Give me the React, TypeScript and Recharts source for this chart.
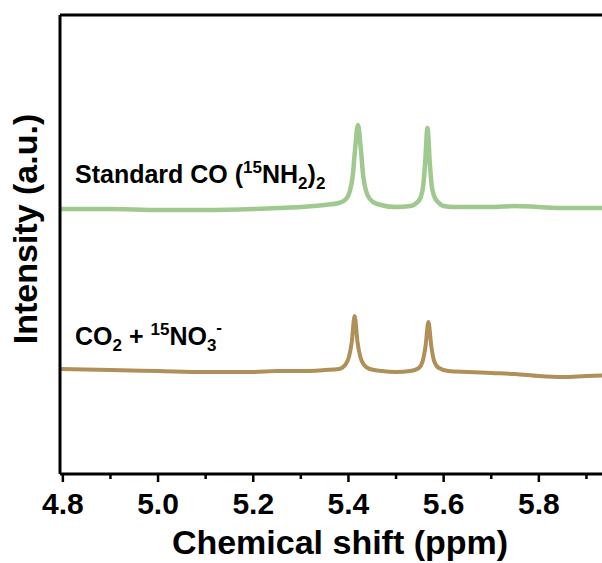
import React from 'react';
import {
  LineChart,
  Line,
  XAxis,
  YAxis,
  ReferenceLine,
  Customized,
} from 'recharts';

// chemical shift (ppm) and intensity (a.u.)
const STANDARD_PPM = [
  4.79, 4.9, 5.0, 5.1, 5.2, 5.25, 5.3, 5.35, 5.38, 5.395, 5.403, 5.409, 5.414, 5.42,
  5.426, 5.431, 5.437, 5.445, 5.46, 5.5, 5.53, 5.545, 5.552, 5.557, 5.561, 5.566, 5.571,
  5.575, 5.58, 5.588, 5.6, 5.62, 5.65, 5.7, 5.75, 5.8, 5.85, 5.97,
];
const STANDARD_INT = [
  265, 265, 264, 264, 265, 266, 267, 269, 271, 275, 283, 298, 325, 349,
  325, 298, 283, 275, 270, 267, 268, 272, 277, 288, 310, 346, 310,
  288, 278, 272, 268, 267, 267, 267, 268, 267, 266, 266,
];

const SAMPLE_PPM = [
  4.79, 4.9, 5.0, 5.1, 5.2, 5.25, 5.3, 5.35, 5.38, 5.393, 5.401, 5.407, 5.413, 5.419,
  5.425, 5.433, 5.445, 5.47, 5.5, 5.53, 5.548, 5.556, 5.562, 5.568, 5.574, 5.58, 5.59,
  5.61, 5.65, 5.7, 5.75, 5.8, 5.85, 5.9, 5.97,
];
const SAMPLE_INT = [
  105, 104, 103, 102, 102, 103, 103, 104, 105, 109, 117, 132, 158, 132,
  117, 109, 105, 103, 102, 103, 106, 113, 128, 152, 128, 113, 106,
  103, 102, 101, 100, 98, 97, 98, 99,
];

const X_TICKS = [4.8, 4.9, 5.0, 5.1, 5.2, 5.3, 5.4, 5.5, 5.6, 5.7, 5.8, 5.9];

const standardData = STANDARD_PPM.map((ppm, i) => ({ ppm, y: STANDARD_INT[i] }));
const sampleData = SAMPLE_PPM.map((ppm, i) => ({ ppm, y: SAMPLE_INT[i] }));

const FONT = '"Liberation Sans", Arial, sans-serif';

const XTick = (props: any) => {
  const { x, y, payload } = props;
  const major = Math.round(payload.value * 10) % 2 === 0;
  return (
    <g>
      <line x1={x} x2={x} y1={y} y2={y + (major ? 8 : 5)} stroke="#000" strokeWidth={2.5} />
      {major && (
        <text
          x={x}
          y={y + 40}
          textAnchor="middle"
          fontFamily={FONT}
          fontWeight="bold"
          fontSize={30}
          fill="#000"
        >
          {payload.value.toFixed(1)}
        </text>
      )}
    </g>
  );
};

const SeriesLabels = () => (
  <g fontFamily={FONT} fontWeight="bold" fill="#000">
    <text x={75} y={183} fontSize={25}>
      Standard CO (
      <tspan fontSize={17} dy={-10}>15</tspan>
      <tspan dy={10}>NH</tspan>
      <tspan fontSize={17} dy={6}>2</tspan>
      <tspan dy={-6}>)</tspan>
      <tspan fontSize={17} dy={6}>2</tspan>
    </text>
    <text x={75} y={345} fontSize={25}>
      CO
      <tspan fontSize={17} dy={6}>2</tspan>
      <tspan dy={-6}> + </tspan>
      <tspan fontSize={17} dy={-10}>15</tspan>
      <tspan dy={10}>NO</tspan>
      <tspan fontSize={17} dy={6}>3</tspan>
      <tspan fontSize={17} dy={-18}>-</tspan>
    </text>
    <text
      x={37}
      y={229}
      fontSize={34}
      textAnchor="middle"
      transform="rotate(-90, 37, 229)"
    >
      Intensity (a.u.)
    </text>
    <text x={340} y={554} fontSize={34} textAnchor="middle">
      Chemical shift (ppm)
    </text>
  </g>
);

export default function App() {
  return (
    <div
      style={{
        position: 'absolute',
        left: 0,
        top: 0,
        width: 602,
        height: 563,
        overflow: 'hidden',
        background: '#fff',
      }}
    >
      <LineChart
        width={620}
        height={563}
        margin={{ top: 15, right: 5, bottom: 0, left: 0 }}
      >
        <XAxis
          dataKey="ppm"
          type="number"
          domain={[4.794, 5.96]}
          ticks={X_TICKS}
          allowDataOverflow
          height={89}
          tickSize={0}
          tickMargin={0}
          tickLine={false}
          tick={<XTick />}
          axisLine={{ stroke: '#000', strokeWidth: 3 }}
        />
        <YAxis
          type="number"
          domain={[0, 459]}
          width={60}
          tick={false}
          tickLine={false}
          axisLine={{ stroke: '#000', strokeWidth: 3 }}
          allowDataOverflow
        />
        <ReferenceLine y={459} stroke="#000" strokeWidth={3} />
        <Line
          data={standardData}
          dataKey="y"
          type="monotone"
          stroke="#a0c98f"
          strokeWidth={4.5}
          dot={false}
          isAnimationActive={false}
        />
        <Line
          data={sampleData}
          dataKey="y"
          type="monotone"
          stroke="#b08f58"
          strokeWidth={4}
          dot={false}
          isAnimationActive={false}
        />
        <Customized component={<SeriesLabels />} />
      </LineChart>
    </div>
  );
}
